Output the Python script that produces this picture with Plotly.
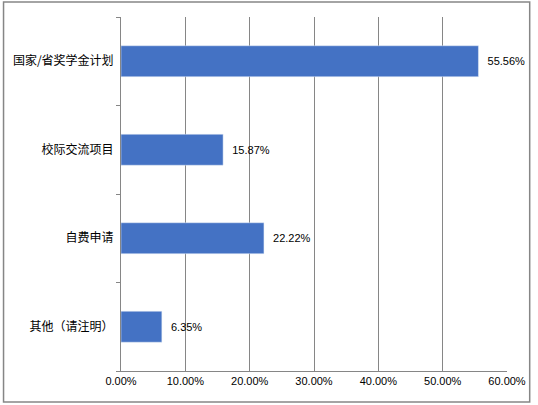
import plotly.graph_objects as go

# funding source categories (top to bottom) and their share
categories = ["国家/省奖学金计划", "校际交流项目", "自费申请", "其他（请注明）"]
shares = [0.5556, 0.1587, 0.2222, 0.0635]
x_ticks = [0, 0.1, 0.2, 0.3, 0.4, 0.5, 0.6]

num_font = "Liberation Sans, Arial, Noto Sans CJK SC, sans-serif"

fig = go.Figure(go.Bar(
    y=categories,
    x=shares,
    orientation="h",
    marker_color="#4472C4",
    text=[f"  {v:.2%}" for v in shares],
    textposition="outside",
    textfont=dict(family=num_font, size=11, color="#000000"),
    cliponaxis=False,
))

fig.update_layout(
    width=538, height=405,
    margin=dict(l=121, r=26, t=17, b=34),
    paper_bgcolor="white", plot_bgcolor="white",
    font=dict(family="Noto Sans CJK SC, Noto Sans, sans-serif", size=11, color="#000000"),
    bargap=0.65,
    showlegend=False,
    xaxis=dict(
        range=[0, 0.6], tickvals=x_ticks, tickformat=".2%",
        showgrid=True, gridcolor="#868686", gridwidth=1,
        showline=True, linecolor="#868686", linewidth=1,
        ticks="", zeroline=False, tickfont=dict(family=num_font, size=11),
    ),
    yaxis=dict(
        categoryorder="array", categoryarray=categories[::-1],
        showline=True, linecolor="#868686", linewidth=1,
        ticks="outside", tickson="boundaries", ticklen=4, tickcolor="#868686",
        showgrid=False, tickfont=dict(size=12), ticklabelstandoff=4,
    ),
    shapes=[dict(
        type="rect", xref="paper", yref="paper",
        x0=-0.3043, x1=1.0588, y0=-0.0876, y1=1.0424,
        line=dict(color="#868686", width=1.5),
    )],
)

# page body has a default margin; drop it so the 538x405 figure fits the window
fig.write_html(
    "out.html",
    config={"displayModeBar": False},
    post_script="document.body.style.margin='0';document.body.style.overflow='hidden';",
)
